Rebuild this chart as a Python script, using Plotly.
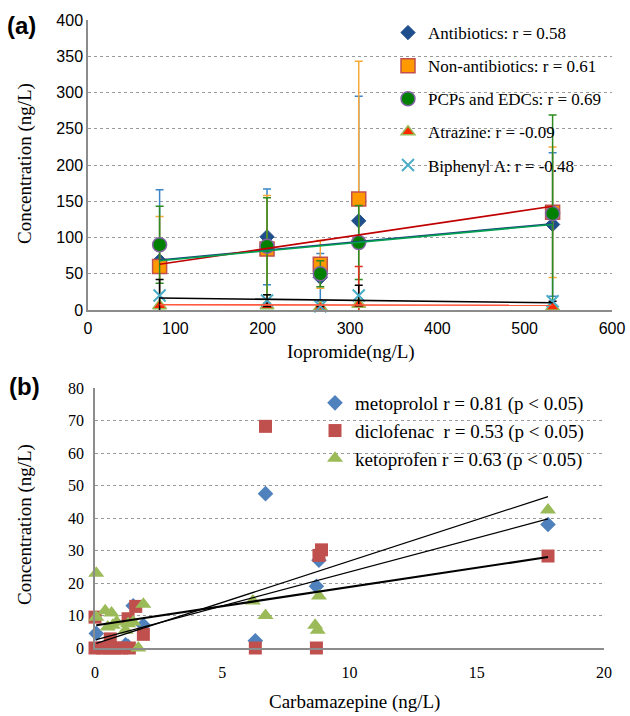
import plotly.graph_objects as go

# ---------------- Panel (a) data ----------------
iopromide = [82, 205, 266, 310, 532]
antibiotics = [68, 101, 45, 123, 118]
antibiotics_err = [98, 66, 33, 172, 99]
non_antibiotics = [60, 84, 63, 153, 135]
non_antibiotics_err = [69, 74, 33, 190, 90]
pcps_edcs = [90, 88, 50, 93, 133]
pcps_edcs_err = [53, 67, 18, 51, 136]
atrazine = [6, 6, 4, 8, 4]
atrazine_err = [0, 0, 0, 52, 0]
biphenyl_a = [20, 13, 5, 20, 12]
biphenyl_a_err = [22, 8, 0, 14, 0]

labels_a = ["Antibiotics: r = 0.58", "Non-antibiotics: r = 0.61", "PCPs and EDCs: r = 0.69",
            "Atrazine: r = -0.09", "Biphenyl A: r = -0.48"]
# trend line values at the first and last iopromide value
trend_a_start = [69, 63, 68, 7.3, 16.5]
trend_a_end = [119, 143, 118, 6.5, 10]

# ---------------- Panel (b) data ----------------
meto_x = [0.05, 1.2, 1.3, 1.5, 1.9, 6.3, 6.7, 8.7, 8.8, 17.8]
meto_y = [4.5, 1.0, 0.5, 13.0, 7.0, 2.2, 47.5, 19.0, 27.0, 38.0]
diclo_x = [0.0, 0.0, 0.3, 0.55, 0.6, 0.8, 1.05, 1.3, 1.35, 1.6, 1.9, 6.3, 6.7, 8.7, 8.8, 8.9, 17.8]
diclo_y = [9.5, 0, 0, 0, 2.8, 0, 0, 9.0, 0, 12.8, 4.2, 0, 68.2, 0, 28.5, 30.2, 28.3]
keto_x = [0.05, 0.05, 0.4, 0.5, 0.65, 0.7, 0.85, 1.2, 1.3, 1.5, 1.7, 1.9, 6.2, 6.7, 8.65, 8.75, 8.8, 17.8]
keto_y = [23, 9.5, 11.5, 6.5, 10.8, 7.0, 8.0, 5.5, 7.5, 8.0, 0, 13.5, 14.5, 10.0, 7.0, 5.5, 16.0, 42.5]
labels_b = ["metoprolol r = 0.81 (p < 0.05)", "diclofenac  r = 0.53 (p < 0.05)",
            "ketoprofen r = 0.63 (p < 0.05)"]
trend_b_x = [0.05, 17.8]
trend_b_start = [2.6, 1.4, 7.0]
trend_b_end = [39.7, 46.6, 28.0]

SERIF = "Liberation Serif"
SANS = "Liberation Sans"

fig = go.Figure()

# ---- panel (a) traces ----
series_a = [
    (antibiotics, antibiotics_err, dict(symbol="diamond", size=11, color="#1F4E8C",
                                        line=dict(color="#1F4E8C", width=1)), "#3A86C8"),
    (non_antibiotics, non_antibiotics_err, dict(symbol="square", size=14, color="#FF9900",
                                                line=dict(color="#C0504D", width=1.5)), "#F8A838"),
    (pcps_edcs, pcps_edcs_err, dict(symbol="circle", size=14, color="#008000",
                                    line=dict(color="#8064A2", width=1.5)), "#2E8B22"),
    (atrazine, atrazine_err, dict(symbol="triangle-up", size=12, color="#FF2A00",
                                  line=dict(color="#9BBB59", width=1.5)), "#E0301E"),
    (biphenyl_a, biphenyl_a_err, dict(symbol="x-thin-open", size=12, color="#4BACC6",
                                      line=dict(color="#4BACC6", width=2)), "#000000"),
]
trend_colors_a = ["#1F3F7F", "#C00000", "#00A050", "#FF5A40", "#000000"]

for i, (ys, err, mk, ecol) in enumerate(series_a):
    fig.add_trace(go.Scatter(
        x=iopromide, y=ys, mode="markers", name=labels_a[i], marker=mk,
        error_y=dict(type="data", array=err, visible=True, color=ecol, thickness=1.5, width=4),
        xaxis="x", yaxis="y", legend="legend", legendgroup="a%d" % i, cliponaxis=False))

trend_order = [0, 1, 3, 4, 2]
for i in trend_order:
    fig.add_trace(go.Scatter(
        x=[iopromide[0], iopromide[-1]], y=[trend_a_start[i], trend_a_end[i]], mode="lines",
        line=dict(color=trend_colors_a[i], width=1.6), showlegend=False, hoverinfo="skip",
        xaxis="x", yaxis="y"))

# ---- panel (b) traces ----
series_b = [
    (meto_x, meto_y, dict(symbol="diamond", size=12, color="#4F81BD")),
    (diclo_x, diclo_y, dict(symbol="square", size=13, color="#C0504D")),
    (keto_x, keto_y, dict(symbol="triangle-up", size=14, color="#9BBB59")),
]
for i, (xs, ys, mk) in enumerate(series_b):
    fig.add_trace(go.Scatter(
        x=xs, y=ys, mode="markers", name=labels_b[i], marker=mk,
        xaxis="x2", yaxis="y2", legend="legend2", legendgroup="b%d" % i, cliponaxis=False))

trend_widths_b = [1.3, 1.3, 2.2]
for i in range(3):
    fig.add_trace(go.Scatter(
        x=trend_b_x, y=[trend_b_start[i], trend_b_end[i]], mode="lines",
        line=dict(color="black", width=trend_widths_b[i]), showlegend=False, hoverinfo="skip",
        xaxis="x2", yaxis="y2"))

W, H = 630, 716
def px_x(p):
    return p / W
def px_y(p):
    return 1 - p / H

grid = dict(showgrid=True, gridcolor="#9A9A9A", griddash="dot", gridwidth=1)
axline = dict(showline=True, linecolor="#8C8C8C", linewidth=1.5, zeroline=False, ticks="",
              automargin=False)

def title_ann(text, x, y, angle=0):
    return dict(text=text, x=px_x(x), y=px_y(y), xref="paper", yref="paper",
                xanchor="center", yanchor="middle", showarrow=False, textangle=angle,
                font=dict(family=SERIF, size=19, color="black"))

fig.update_layout(
    width=W, height=H, margin=dict(l=0, r=0, t=0, b=0, autoexpand=False),
    paper_bgcolor="white", plot_bgcolor="white",
    xaxis=dict(domain=[px_x(88), px_x(612)], range=[0, 600], dtick=100, showgrid=False,
               tickfont=dict(family=SANS, size=16, color="black"), anchor="y",
               ticklabelstandoff=3, **axline),
    yaxis=dict(domain=[px_y(310), px_y(20)], range=[0, 400], dtick=50, **grid,
               tickfont=dict(family=SANS, size=16, color="black"), anchor="x", **axline),
    xaxis2=dict(domain=[px_x(95), px_x(604)], range=[0, 20], dtick=5, showgrid=False,
                tickfont=dict(family=SERIF, size=16, color="black"), anchor="y2",
                ticklabelstandoff=9, **axline),
    yaxis2=dict(domain=[px_y(648), px_y(388)], range=[0, 80], dtick=10, **grid,
                tickfont=dict(family=SERIF, size=16, color="black"), anchor="x2",
                ticklabelstandoff=6, **axline),
    legend=dict(x=px_x(388), y=px_y(15), xanchor="left", yanchor="top", bgcolor="rgba(0,0,0,0)",
                font=dict(family=SERIF, size=17, color="black"), tracegroupgap=8,
                itemsizing="trace"),
    legend2=dict(x=px_x(315), y=px_y(384), xanchor="left", yanchor="top", bgcolor="rgba(0,0,0,0)",
                 font=dict(family=SERIF, size=19, color="black"), tracegroupgap=0,
                 itemsizing="trace"),
    annotations=[
        dict(text="<b>(a)</b>", x=px_x(5), y=px_y(26), xref="paper", yref="paper", xanchor="left",
             yanchor="middle", showarrow=False, font=dict(family=SANS, size=24, color="black")),
        dict(text="<b>(b)</b>", x=px_x(7), y=px_y(386), xref="paper", yref="paper", xanchor="left",
             yanchor="middle", showarrow=False, font=dict(family=SANS, size=24, color="black")),
        title_ann("Concentration (ng/L)", 25, 164, -90),
        title_ann("Iopromide(ng/L)", 351, 352),
        title_ann("Concentration (ng/L)", 25, 525, -90),
        title_ann("Carbamazepine (ng/L)", 354, 702),
    ],
    showlegend=True,
)

fig.write_html("out.html")
